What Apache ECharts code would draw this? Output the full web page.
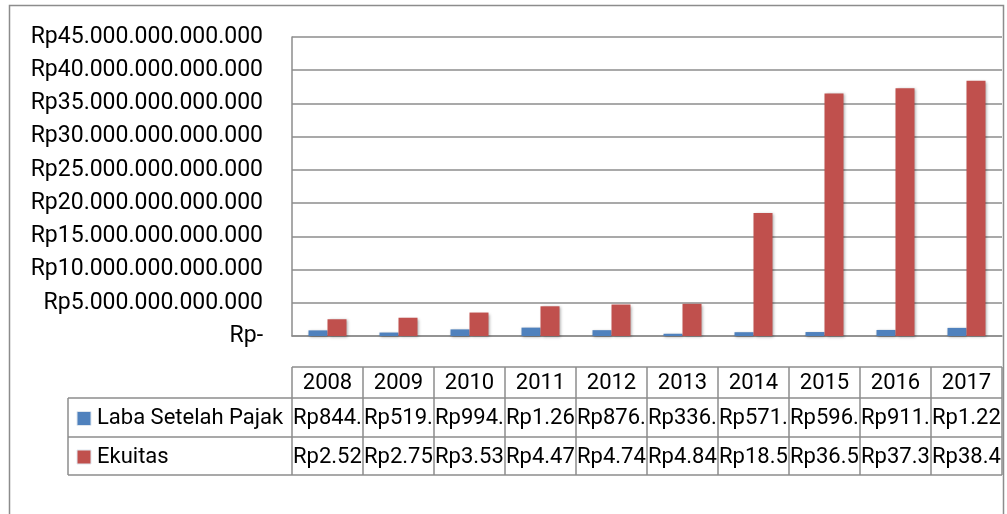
<!DOCTYPE html>
<html><head><meta charset="utf-8">
<script src="https://cdn.jsdelivr.net/npm/echarts@6/dist/echarts.min.js"></script>
<style>html,body{margin:0;padding:0;background:#fff}#c{width:1007px;height:514px}</style>
</head><body><div id="c"></div>
<script>
const categories = ['2008','2009','2010','2011','2012','2013','2014','2015','2016','2017'];
const seriesNames = ['Laba Setelah Pajak','Ekuitas'];
const labaSetelahPajak = [844e9, 519e9, 994e9, 1260e9, 876e9, 336e9, 571e9, 596e9, 911e9, 1220e9];
const ekuitas = [2520e9, 2750e9, 3530e9, 4470e9, 4740e9, 4840e9, 18500e9, 36500e9, 37300e9, 38400e9];
const yTicks = {min: 0, max: 45e12, interval: 5e12};
const colors = ['#4F81BD', '#C0504D'];

function fmt(v){
  const s = Math.round(v).toString();
  return s.replace(/\B(?=(\d{3})+(?!\d))/g, '.');
}
function rp(v){ return v === 0 ? 'Rp-' : 'Rp' + fmt(v); }

const FONT = 'Roboto';
const chart = echarts.init(document.getElementById('c'));
const shadow = {shadowBlur: 3, shadowColor: 'rgba(0,0,0,0.35)', shadowOffsetX: 1, shadowOffsetY: 1};
chart.setOption({
  animation: false,
  grid: {left: 292, top: 37, right: 5, bottom: 178, containLabel: false},
  xAxis: {
    type: 'category', data: categories,
    axisLine: {show: true, lineStyle: {color: '#8c8c8c', width: 1.5}},
    axisTick: {show: false}, axisLabel: {show: false}, splitLine: {show: false}
  },
  yAxis: {
    type: 'value', min: yTicks.min, max: yTicks.max, interval: yTicks.interval,
    axisLine: {show: true, lineStyle: {color: '#8c8c8c', width: 1.5}},
    axisTick: {show: false},
    splitLine: {show: true, lineStyle: {color: '#8c8c8c', width: 1.5}},
    axisLabel: {margin: 29, color: '#000', fontFamily: FONT, fontSize: 23, formatter: rp}
  },
  series: [
    {name: seriesNames[0], type: 'bar', data: labaSetelahPajak, barWidth: 19, barGap: '0%',
     itemStyle: Object.assign({color: colors[0]}, shadow)},
    {name: seriesNames[1], type: 'bar', data: ekuitas, barWidth: 19, barGap: '0%',
     itemStyle: Object.assign({color: colors[1]}, shadow)}
  ]
});

// Data table below the chart, columns aligned to the category axis
const half = chart.getModel().getComponent('xAxis', 0).axis.getBandWidth() / 2;
const centers = categories.map((c, i) => chart.convertToPixel({xAxisIndex: 0}, i));
const L = centers[0] - half, R = centers[centers.length - 1] + half;
const rowY = [367, 398, 437, 475];
const tableLeft = 68;
const lineStyle = {stroke: '#8c8c8c', lineWidth: 1.5};
const g = [];
g.push({type: 'rect', shape: {x: 9.5, y: 5.5, width: 994, height: 530}, style: {fill: 'none', stroke: '#8c8c8c', lineWidth: 1.5}, silent: true});
g.push({type: 'line', shape: {x1: L, y1: rowY[0], x2: R, y2: rowY[0]}, style: lineStyle});
for (let k = 1; k < 4; k++) g.push({type: 'line', shape: {x1: tableLeft, y1: rowY[k], x2: R, y2: rowY[k]}, style: lineStyle});
g.push({type: 'line', shape: {x1: tableLeft, y1: rowY[1], x2: tableLeft, y2: rowY[3]}, style: lineStyle});
for (let i = 0; i <= categories.length; i++) {
  const x = L + i * half * 2;
  g.push({type: 'line', shape: {x1: x, y1: rowY[0], x2: x, y2: rowY[3]}, style: lineStyle});
}
const font = '22px ' + FONT;
categories.forEach((c, i) => {
  g.push({type: 'text', x: centers[i], y: (rowY[0] + rowY[1]) / 2 + 1,
    style: {text: c, font: font, fill: '#000', align: 'center', verticalAlign: 'middle'}});
});
const rows = [labaSetelahPajak, ekuitas];
rows.forEach((arr, r) => {
  const cy = (rowY[r + 1] + rowY[r + 2]) / 2 + 1;
  g.push({type: 'rect', shape: {x: 77, y: cy - 7, width: 14, height: 14}, style: {fill: colors[r], stroke: '#dfe6ee', lineWidth: 1}});
  g.push({type: 'text', x: 97, y: cy,
    style: {text: seriesNames[r], font: font, fill: '#000', align: 'left', verticalAlign: 'middle'}});
  arr.forEach((v, i) => {
    g.push({type: 'text', x: centers[i] - half + 1, y: cy,
      style: {text: rp(v), font: font, fill: '#000', align: 'left', verticalAlign: 'middle',
              width: half * 2, overflow: 'truncate', ellipsis: ''}});
  });
});
chart.setOption({graphic: g});
</script></body></html>
